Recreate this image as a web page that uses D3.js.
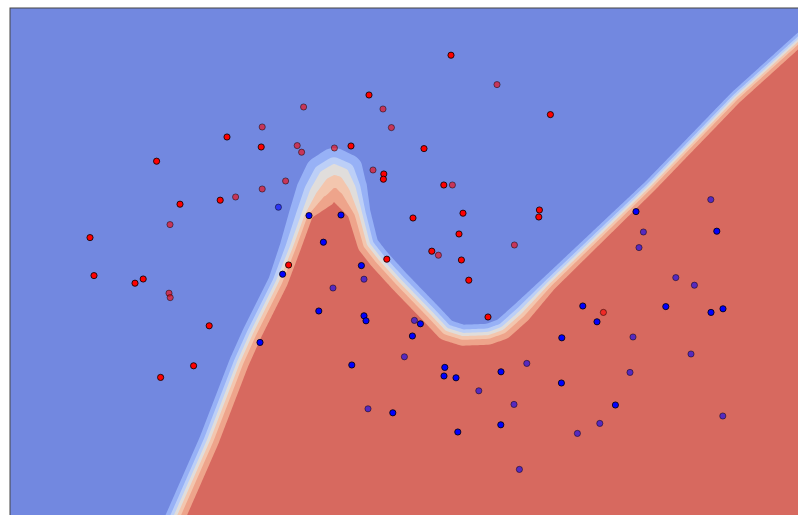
<!DOCTYPE html>
<html>
<head>
<meta charset="utf-8">
<script src="https://cdn.jsdelivr.net/npm/d3@7"></script>
<style>
  html, body { margin: 0; padding: 0; background: #fff; overflow: hidden; }
</style>
</head>
<body>
<svg id="chart" width="798" height="515"></svg>
<script>
// Decision boundary of the classifier (the p = 0.5 line), in data coordinates.
const boundary = [
  [-0.82, -1.36], [-0.67, -1.025], [-0.51, -0.66], [-0.36, -0.27], [-0.295, -0.125],
  [-0.235, -0.005], [-0.165, 0.135], [-0.095, 0.305], [-0.035, 0.47], [0.01, 0.59],
  [0.06, 0.675], [0.12, 0.71], [0.18, 0.685], [0.22, 0.605], [0.255, 0.475],
  [0.295, 0.32], [0.35, 0.25], [0.45, 0.14], [0.61, -0.025], [0.685, -0.105],
  [0.765, -0.13], [0.89, -0.125], [0.96, -0.10], [1.05, -0.02], [1.19, 0.125],
  [1.70, 0.615], [2.125, 1.055], [2.44, 1.34], [2.67, 1.55]
];
// How quickly the probability saturates on the blue side of each vertex...
const spreadBlueSide = [
  0.025, 0.025, 0.025, 0.025, 0.025, 0.025, 0.025, 0.0325, 0.04, 0.045,
  0.05, 0.052, 0.05, 0.0375, 0.0275, 0.0265, 0.0265, 0.0265, 0.0265, 0.0265,
  0.0265, 0.0265, 0.0265, 0.0265, 0.02, 0.016, 0.016, 0.016, 0.016
];
// ...and on the red side.
const spreadRedSide = [
  0.025, 0.025, 0.025, 0.025, 0.025, 0.025, 0.025, 0.0225, 0.0225, 0.065,
  0.09, 0.10, 0.09, 0.065, 0.03, 0.0265, 0.0265, 0.0265, 0.0265, 0.0265,
  0.0265, 0.0265, 0.0265, 0.0265, 0.02, 0.016, 0.016, 0.016, 0.016
];

// Probability levels separating the filled contour bands.
const levels = [0.15, 0.30, 0.45, 0.60, 0.75, 0.90];
const bandColors = ["#7288E0", "#97B1F6", "#BCCFF7", "#E0DDDB", "#F3C6AE", "#EEA48B", "#D7695F"];

// Training points (opaque) and test points (translucent).
const trainRed = [
  [0.705, 1.264], [0.295, 1.065], [-0.244, 0.805], [-0.415, 0.855], [-0.767, 0.734],
  [0.205, 0.81], [0.57, 0.797], [0.369, 0.67], [0.367, 0.644], [1.202, 0.967],
  [-1.1, 0.352], [-0.65, 0.519], [-0.449, 0.539], [-1.08, 0.162], [-0.875, 0.124],
  [-0.834, 0.145], [-0.504, -0.089], [0.669, 0.615], [0.515, 0.45], [0.765, 0.474],
  [1.147, 0.49], [1.144, 0.455], [0.745, 0.37], [-0.107, 0.215], [0.609, 0.284],
  [0.384, 0.244], [0.757, 0.24], [0.794, 0.139], [0.89, -0.045], [-0.582, -0.289],
  [-0.747, -0.347]
];
const testRed = [
  [0.935, 1.117], [-0.032, 1.005], [0.365, 0.995], [-0.239, 0.905], [0.407, 0.902],
  [-0.064, 0.812], [-0.042, 0.779], [0.122, 0.80], [0.315, 0.69], [-0.122, 0.635],
  [-0.239, 0.595], [-0.372, 0.555], [-0.70, 0.417], [-0.705, 0.074], [-0.699, 0.052],
  [0.712, 0.615], [0.642, 0.264], [1.022, 0.315], [1.467, -0.022]
];
const trainBlue = [
  [-0.005, 0.462], [0.155, 0.465], [0.067, 0.329], [-0.137, 0.169], [0.257, 0.212],
  [0.044, -0.015], [0.27, -0.039], [0.28, -0.064], [0.552, -0.079], [0.512, -0.14],
  [-0.25, -0.172], [1.63, 0.482], [2.034, 0.384], [1.364, 0.01], [1.435, -0.069],
  [1.779, 0.007], [2.005, -0.022], [2.065, -0.004], [1.259, -0.149], [0.209, -0.285],
  [0.674, -0.297], [0.67, -0.34], [0.73, -0.349], [0.955, -0.319], [0.414, -0.524],
  [0.954, -0.584], [0.739, -0.62], [1.257, -0.375], [1.527, -0.485]
];
const testBlue = [
  [-0.158, 0.504], [0.27, 0.144], [0.115, 0.10], [0.522, -0.062], [0.472, -0.244],
  [2.004, 0.542], [1.667, 0.38], [1.645, 0.302], [1.829, 0.152], [1.922, 0.114],
  [1.615, -0.145], [1.905, -0.23], [1.084, -0.277], [0.844, -0.414], [0.29, -0.504],
  [1.02, -0.482], [1.047, -0.807], [1.60, -0.322], [1.449, -0.577], [1.337, -0.627],
  [2.064, -0.54]
];

const svg = d3.select("#chart");
const x = d3.scaleLinear().domain([-1.5, 2.6]).range([10, 830]);
const y = d3.scaleLinear().domain([-1.3, 1.5]).range([568, 8]);

const [px0, px1] = x.range();
const [py1, py0] = y.range();

svg.append("defs").append("clipPath").attr("id", "plot-clip")
  .append("rect").attr("x", px0).attr("y", py0).attr("width", px1 - px0).attr("height", py1 - py0);

const plot = svg.append("g").attr("clip-path", "url(#plot-clip)");

// Sample the classifier's probability on a regular grid.
const step = 2;
const nx = Math.ceil((px1 - px0) / step) + 1;
const ny = Math.ceil((py1 - py0) / step) + 1;

// Region on the "red" side of the boundary, closed off beyond the plot.
const redRegion = boundary.concat([[2.9, 1.55], [2.9, -1.5], [-0.9, -1.5]]);

const values = new Float64Array(nx * ny);
for (let j = 0; j < ny; j++) {
  const gy = y.invert(py0 + j * step);
  for (let i = 0; i < nx; i++) {
    const gx = x.invert(px0 + i * step);
    const inside = d3.polygonContains(redRegion, [gx, gy]);
    const spread = inside ? spreadRedSide : spreadBlueSide;
    let best = Infinity, bestS = spread[0];
    for (let k = 0; k < boundary.length - 1; k++) {
      const [ax, ay] = boundary[k], [bx, by] = boundary[k + 1];
      const vx = bx - ax, vy = by - ay;
      let t = ((gx - ax) * vx + (gy - ay) * vy) / (vx * vx + vy * vy);
      t = Math.max(0, Math.min(1, t));
      const dx = gx - (ax + t * vx), dy = gy - (ay + t * vy);
      const d = dx * dx + dy * dy;
      if (d < best) {
        best = d;
        bestS = spread[k] + t * (spread[k + 1] - spread[k]);
      }
    }
    const dist = Math.sqrt(best) * (inside ? 1 : -1);
    values[j * nx + i] = 1 / (1 + Math.exp(-dist / bestS));
  }
}

const contours = d3.contours().size([nx, ny]).thresholds(levels)(values);
const path = d3.geoPath(d3.geoIdentity().scale(step).translate([px0 - step / 2, py0 - step / 2]));

plot.append("rect")
  .attr("x", px0).attr("y", py0)
  .attr("width", px1 - px0).attr("height", py1 - py0)
  .attr("fill", bandColors[0]);

plot.append("g").selectAll("path")
  .data(contours)
  .join("path")
  .attr("d", path)
  .attr("fill", (d, i) => bandColors[i + 1]);

// Scatter: training points first, then test points on top.
const pointLayers = [
  { data: trainRed, color: "#FF0000", alpha: 1 },
  { data: trainBlue, color: "#0000FF", alpha: 1 },
  { data: testRed, color: "#FF0000", alpha: 0.6 },
  { data: testBlue, color: "#0000FF", alpha: 0.6 }
];
pointLayers.forEach(layer => {
  plot.append("g").selectAll("circle")
    .data(layer.data)
    .join("circle")
    .attr("cx", d => x(d[0]))
    .attr("cy", d => y(d[1]))
    .attr("r", 3.1)
    .attr("fill", layer.color)
    .attr("fill-opacity", layer.alpha)
    .attr("stroke", "#000")
    .attr("stroke-opacity", layer.alpha)
    .attr("stroke-width", 0.8);
});

// Axes frame.
svg.append("rect")
  .attr("x", px0).attr("y", py0)
  .attr("width", px1 - px0).attr("height", py1 - py0)
  .attr("fill", "none")
  .attr("stroke", "#444")
  .attr("stroke-width", 1);
</script>
</body>
</html>
